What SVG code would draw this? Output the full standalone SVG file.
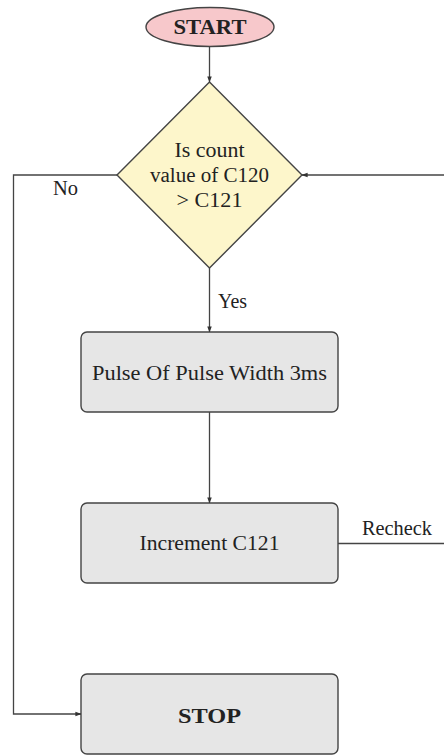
<svg xmlns="http://www.w3.org/2000/svg" width="444" height="755" viewBox="0 0 444 755">
  <defs>
    <marker id="arrow" viewBox="0 0 8 8" refX="7.5" refY="4" markerWidth="6" markerHeight="6" markerUnits="userSpaceOnUse" orient="auto">
      <path d="M0,1 L8,4 L0,7 Z" fill="#333"/>
    </marker>
    <style>
      .edge { fill: none; stroke: #444; stroke-width: 1.3; }
      .shape { stroke: #444; stroke-width: 1.4; }
      .lbl { font-family: "Liberation Serif", "DejaVu Serif", serif; font-size: 20px; fill: #222; }
      .mid { text-anchor: middle; }
      .bold { font-weight: bold; }
    </style>
  </defs>

  <g id="start">
    <ellipse class="shape" cx="210" cy="27" rx="64" ry="19.5" fill="#f7c8cb"/>
    <text class="lbl mid bold" x="210" y="34" textLength="73" lengthAdjust="spacingAndGlyphs">START</text>
  </g>

  <g id="decision">
    <polygon class="shape" points="209.5,82 302,175 209.5,268 117,175" fill="#fdf6cb"/>
    <text class="lbl mid" x="209.5" y="157" textLength="70" lengthAdjust="spacingAndGlyphs">Is count</text>
    <text class="lbl mid" x="209.5" y="182" textLength="119" lengthAdjust="spacingAndGlyphs">value of C120</text>
    <text class="lbl mid" x="209.5" y="207" textLength="66" lengthAdjust="spacingAndGlyphs">&gt; C121</text>
  </g>

  <g id="pulse">
    <rect class="shape" x="81" y="332" width="257" height="80" rx="6" fill="#e6e6e6"/>
    <text class="lbl mid" x="209.5" y="380" textLength="235" lengthAdjust="spacingAndGlyphs">Pulse Of Pulse Width 3ms</text>
  </g>

  <g id="increment">
    <rect class="shape" x="81" y="503" width="257" height="80" rx="6" fill="#e6e6e6"/>
    <text class="lbl mid" x="209.5" y="550" textLength="140" lengthAdjust="spacingAndGlyphs">Increment C121</text>
  </g>

  <g id="stop">
    <rect class="shape" x="81" y="674" width="257" height="80" rx="6" fill="#e6e6e6"/>
    <text class="lbl mid bold" x="209.5" y="723" textLength="63" lengthAdjust="spacingAndGlyphs">STOP</text>
  </g>

  <g id="connectors">
    <line class="edge" x1="209.5" y1="46.5" x2="209.5" y2="82" marker-end="url(#arrow)"/>
    <line class="edge" x1="209.5" y1="268" x2="209.5" y2="332" marker-end="url(#arrow)"/>
    <line class="edge" x1="209.5" y1="412" x2="209.5" y2="503" marker-end="url(#arrow)"/>
    <polyline class="edge" points="117,175 13.5,175 13.5,714 81,714" marker-end="url(#arrow)"/>
    <line class="edge" x1="444" y1="175" x2="302" y2="175" marker-end="url(#arrow)"/>
    <line class="edge" x1="338" y1="543.5" x2="444" y2="543.5"/>
    <text class="lbl" x="53" y="195" textLength="25" lengthAdjust="spacingAndGlyphs">No</text>
    <text class="lbl" x="218" y="308" textLength="29" lengthAdjust="spacingAndGlyphs">Yes</text>
    <text class="lbl" x="362" y="535" textLength="70" lengthAdjust="spacingAndGlyphs">Recheck</text>
  </g>
</svg>
